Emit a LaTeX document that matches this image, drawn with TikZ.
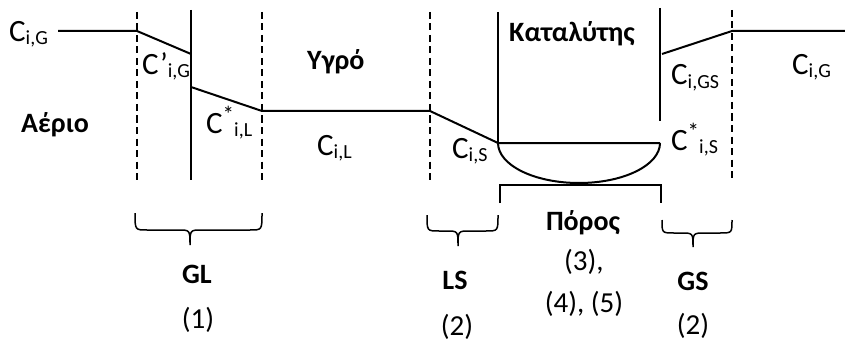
\documentclass[tikz,border=0pt]{standalone}
\usepackage{fontspec}
\setmainfont{Carlito}
% sub- and superscripts for the concentration labels
\newcommand\sbs[1]{\raisebox{-3pt}{\fontsize{20}{20}\selectfont #1}}
\newcommand\sps[1]{\raisebox{11pt}{\fontsize{23}{23}\selectfont #1}}
% curly brace opening upwards: x-left, x-right, x-tip, y-top, y-flat, y-tip
\newcommand\bracedown[6]{%
  \draw[bracestyle] (#1,#4) .. controls (#1,#5) .. (#1+12,#5) -- (#3-12,#5)
    .. controls (#3,#5) .. (#3,#6) .. controls (#3,#5) .. (#3+12,#5)
    -- (#2-12,#5) .. controls (#2,#5) .. (#2,#4);}
\tikzset{
  film/.style={line width=2pt, dash pattern=on 7pt off 4.5pt},
  wall/.style={line width=2pt},
  profile/.style={line width=2pt},
  bracestyle/.style={line width=1.5pt},
  conc/.style={inner sep=0pt, anchor=base west, font=\fontsize{31}{36}\selectfont},
  phase/.style={inner sep=0pt, font=\bfseries\fontsize{28}{34}\selectfont},
  refno/.style={inner sep=0pt, anchor=base, font=\fontsize{29}{35}\selectfont},
}
\begin{document}
\begin{tikzpicture}[x=1pt,y=-1pt]
\useasboundingbox (0,0) rectangle (845,342);

% film boundaries (dashed) and interfaces (solid)
\draw[film] (137,12) -- (137,182);
\draw[film] (262,12) -- (262,182);
\draw[film] (430,12) -- (430,181);
\draw[film] (732,10) -- (732,182);
\draw[wall] (191,10) -- (191,180);
\draw[wall] (498,12) -- (498,143);
\draw[wall] (660,8) -- (660,121);

% concentration profile
\coordinate (gL) at (58,31);
\coordinate (d1) at (137,31);
\coordinate (iG) at (191,54);
\coordinate (iL) at (191,87);
\coordinate (d2) at (262,111);
\coordinate (d3) at (430,111);
\coordinate (sL) at (498,143);
\coordinate (pB) at (579,183);
\coordinate (sR) at (660,143);
\coordinate (gsI) at (662,54);
\coordinate (d4) at (732,31);
\coordinate (gR) at (845,31);
\draw[profile] (gL) -- (d1) -- (iG);
\draw[profile] (iL) -- (d2) -- (d3) -- (sL) -- (sR);
\draw[profile] (gsI) -- (d4) -- (gR);

% pore
\draw[profile] (sL) .. controls (498,165) and (534,183) .. (pB)
  .. controls (624,183) and (660,165) .. (sR);
\draw[bracestyle] (500,203) -- (500,185) -- (661,185) -- (661,203);
\draw[bracestyle] (580,185) -- (580,182);

% braces under the films
\bracedown{135}{262}{190}{213}{230}{245}
\bracedown{427}{498}{458}{215}{231}{246}
\bracedown{662}{732}{693}{220}{233}{247}

% concentrations
\node[conc] (cGl) at (9,42) {C\sbs{i,G}};
\node[conc] (cpG) at (142,75) {C’\sbs{i,G}};
\node[conc] (csL) at (206,133) {C\sps{*}\sbs{i,L}};
\node[conc] (cL) at (317,155) {C\sbs{i,L}};
\node[conc] (cS) at (452,158) {C\sbs{i,S}};
\node[conc] (cGS) at (671,85) {C\sbs{i,GS}};
\node[conc] (csS) at (671,150) {C\sps{*}\sbs{i,S}};
\node[conc] (cGr) at (792,75) {C\sbs{i,G}};

% phases
\node[phase, anchor=base west] (gas) at (21,132) {Αέριο};
\node[phase, anchor=base west] (liq) at (307,70) {Υγρό};
\node[phase, anchor=base west] (cat) at (509,42) {Καταλύτης};
\node[phase, anchor=base] (pore) at (583,230) {Πόρος};
\node[phase, anchor=base] (GL) at (197,283) {GL};
\node[phase, anchor=base] (LS) at (455,289) {LS};
\node[phase, anchor=base] (GS) at (693,290) {GS};

% equation numbers
\node[refno] (n1) at (198,328) {(1)};
\node[refno] (n2a) at (457,335) {(2)};
\node[refno] (n2b) at (693,334) {(2)};
\node[refno, anchor=base west] (n3) at (564,270) {(3),};
\node[refno] (n45) at (584,312) {(4), (5)};
\end{tikzpicture}
\end{document}
